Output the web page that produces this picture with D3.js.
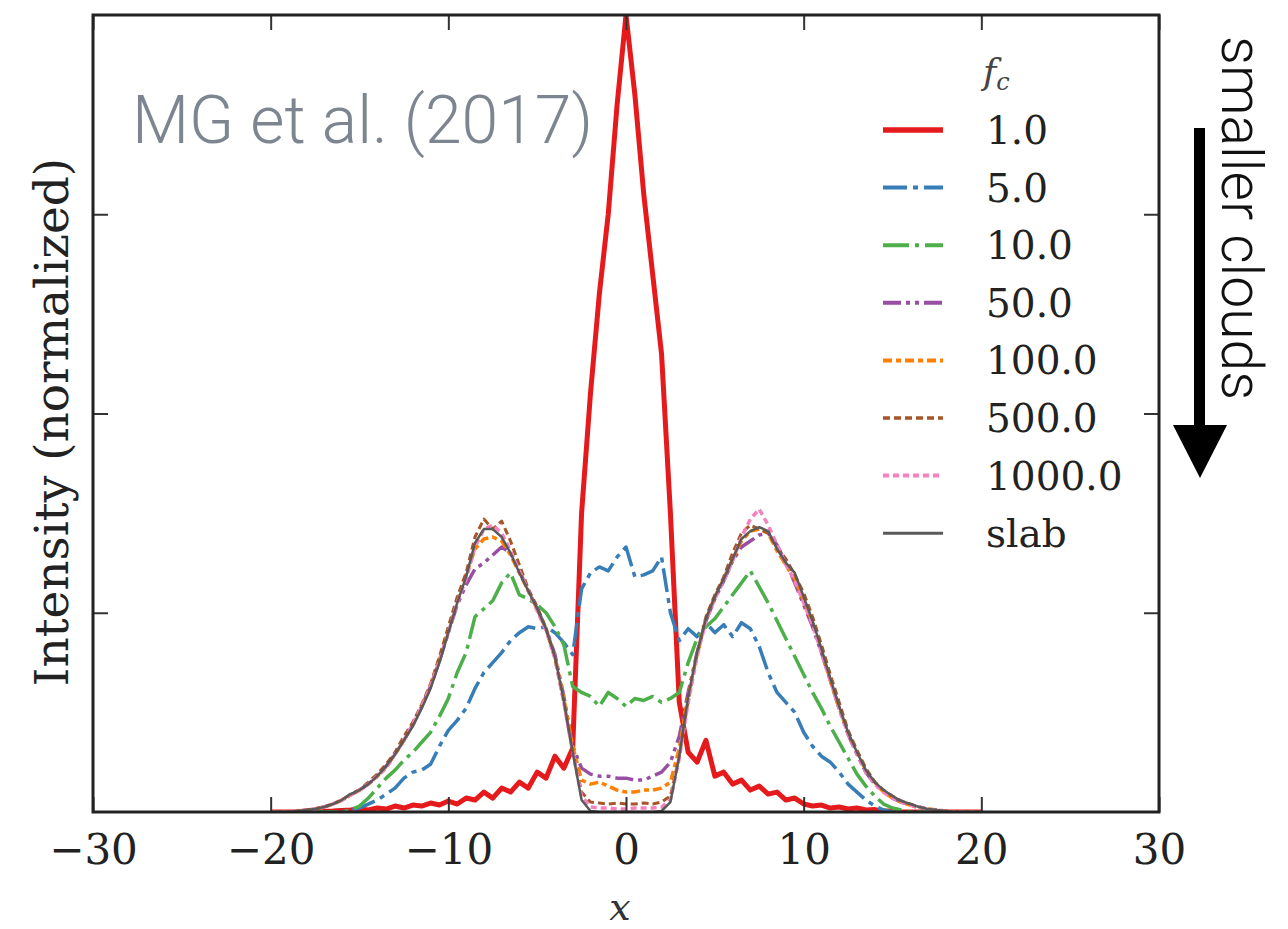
<!DOCTYPE html>
<html>
<head>
<meta charset="utf-8">
<script src="https://cdn.jsdelivr.net/npm/d3@7"></script>
<style>
  body { margin: 0; background: #fff; }
  svg { display: block; }
</style>
</head>
<body>
<script>
// sample grid shared by every profile
var xs = [-20, -19.5, -19, -18.5, -18, -17.5, -17, -16.5, -16, -15.5,
          -15, -14.5, -14, -13.5, -13, -12.5, -12, -11.5, -11, -10.5,
          -10, -9.5, -9, -8.5, -8, -7.5, -7, -6.5, -6, -5.5,
          -5, -4.5, -4, -3.5, -3, -2.5, -2, -1.5, -1, -0.5,
          0, 0.5, 1, 1.5, 2, 2.5, 3, 3.5, 4, 4.5,
          5, 5.5, 6, 6.5, 7, 7.5, 8, 8.5, 9, 9.5,
          10, 10.5, 11, 11.5, 12, 12.5, 13, 13.5, 14, 14.5,
          15, 15.5, 16, 16.5, 17, 17.5, 18, 18.5, 19, 19.5,
          20];

var fc1 = [0, 0, 0, 0, 0, 0, 0.003, 0.005, 0.008, 0.01,
           0.015, 0.01, 0.02, 0.015, 0.03, 0.02, 0.035, 0.03, 0.045, 0.035,
           0.055, 0.04, 0.07, 0.06, 0.1, 0.07, 0.12, 0.1, 0.15, 0.12,
           0.2, 0.17, 0.28, 0.22, 0.32, 1.5, 2.1, 2.6, 3.0, 3.55,
           4.0, 3.6, 3.1, 2.7, 2.3, 1.5, 0.55, 0.3, 0.25, 0.36,
           0.18, 0.2, 0.14, 0.16, 0.11, 0.13, 0.09, 0.1, 0.06, 0.07,
           0.04, 0.03, 0.035, 0.02, 0.025, 0.015, 0.02, 0.01, 0.012, 0.005,
           0.005, 0, 0, 0, 0, 0, 0, 0, 0, 0,
           0];

var fc5 = [0, 0, 0, 0, 0, 0, 0, 0, 0, 0.01,
           0.02, 0.04, 0.06, 0.09, 0.12, 0.17, 0.2, 0.21, 0.24, 0.33,
           0.41, 0.46, 0.52, 0.62, 0.7, 0.75, 0.8, 0.86, 0.9, 0.93,
           0.92, 0.93, 0.9, 0.85, 0.79, 1.12, 1.2, 1.23, 1.21, 1.28,
           1.33, 1.18, 1.19, 1.21, 1.28, 1.0, 0.86, 0.92, 0.88, 0.95,
           0.9, 0.94, 0.88, 0.95, 0.92, 0.83, 0.7, 0.6, 0.55, 0.5,
           0.4, 0.33, 0.28, 0.25, 0.2, 0.14, 0.1, 0.06, 0.03, 0.01,
           0, 0, 0, 0, 0, 0, 0, 0, 0, 0,
           0];

var fc10 = [0, 0, 0, 0, 0, 0, 0, 0, 0, 0.01,
            0.03, 0.07, 0.12, 0.17, 0.21, 0.26, 0.3, 0.35, 0.4, 0.48,
            0.57, 0.7, 0.8, 0.98, 1.02, 1.06, 1.15, 1.2, 1.09, 1.07,
            1.04, 1.0, 0.93, 0.84, 0.63, 0.6, 0.58, 0.53, 0.6, 0.57,
            0.53, 0.57, 0.56, 0.58, 0.55, 0.57, 0.6, 0.75, 0.87, 0.93,
            0.97, 1.03, 1.09, 1.15, 1.21, 1.13, 1.05, 0.96, 0.87, 0.78,
            0.69, 0.6, 0.52, 0.43, 0.35, 0.27, 0.19, 0.13, 0.08, 0.04,
            0.02, 0.01, 0, 0, 0, 0, 0, 0, 0, 0,
            0];

var fc50 = [0, 0, 0, 0.005, 0.01, 0.015, 0.025, 0.04, 0.06, 0.085,
            0.11, 0.14, 0.18, 0.23, 0.29, 0.36, 0.44, 0.53, 0.63, 0.76,
            0.9, 1.04, 1.14, 1.22, 1.25, 1.29, 1.33, 1.3, 1.21, 1.11,
            1.02, 0.92, 0.79, 0.58, 0.33, 0.22, 0.19, 0.18, 0.18, 0.17,
            0.17, 0.16, 0.16, 0.18, 0.2, 0.25, 0.38, 0.6, 0.8, 0.96,
            1.07, 1.16, 1.26, 1.33, 1.36, 1.39, 1.4, 1.34, 1.25, 1.15,
            1.04, 0.93, 0.8, 0.66, 0.52, 0.39, 0.29, 0.2, 0.14, 0.1,
            0.07, 0.05, 0.035, 0.02, 0.01, 0.005, 0, 0, 0, 0,
            0];

var fc100 = [0, 0, 0, 0.005, 0.01, 0.015, 0.025, 0.04, 0.06, 0.085,
             0.11, 0.14, 0.18, 0.23, 0.29, 0.36, 0.44, 0.53, 0.64, 0.77,
             0.91, 1.06, 1.19, 1.32, 1.37, 1.38, 1.36, 1.29, 1.2, 1.11,
             1.02, 0.92, 0.78, 0.57, 0.33, 0.16, 0.14, 0.15, 0.13, 0.11,
             0.1, 0.1, 0.11, 0.11, 0.12, 0.15, 0.32, 0.58, 0.79, 0.97,
             1.08, 1.17, 1.27, 1.36, 1.41, 1.42, 1.4, 1.31, 1.24, 1.17,
             1.06, 0.95, 0.81, 0.66, 0.52, 0.4, 0.3, 0.21, 0.15, 0.1,
             0.07, 0.05, 0.035, 0.025, 0.015, 0.01, 0.005, 0, 0, 0,
             0];

var fc500 = [0, 0, 0, 0.005, 0.01, 0.015, 0.025, 0.04, 0.06, 0.09,
             0.11, 0.15, 0.19, 0.24, 0.3, 0.38, 0.45, 0.54, 0.64, 0.78,
             0.93, 1.08, 1.2, 1.38, 1.47, 1.42, 1.46, 1.36, 1.24, 1.12,
             1.03, 0.92, 0.77, 0.55, 0.3, 0.1, 0.05, 0.045, 0.04, 0.045,
             0.04, 0.04, 0.045, 0.04, 0.05, 0.08, 0.28, 0.56, 0.79, 0.98,
             1.09, 1.18, 1.3, 1.4, 1.44, 1.42, 1.4, 1.33, 1.27, 1.19,
             1.1, 0.98, 0.84, 0.69, 0.55, 0.41, 0.31, 0.22, 0.15, 0.11,
             0.08, 0.055, 0.04, 0.025, 0.015, 0.01, 0.005, 0, 0, 0,
             0];

var fc1000 = [0, 0, 0, 0.005, 0.01, 0.015, 0.025, 0.04, 0.06, 0.085,
              0.11, 0.14, 0.18, 0.22, 0.29, 0.36, 0.44, 0.53, 0.63, 0.76,
              0.9, 1.05, 1.17, 1.33, 1.42, 1.44, 1.4, 1.31, 1.21, 1.11,
              1.01, 0.91, 0.77, 0.55, 0.3, 0.08, 0.025, 0.02, 0.02, 0.015,
              0.015, 0.02, 0.02, 0.02, 0.025, 0.06, 0.27, 0.55, 0.78, 0.96,
              1.07, 1.16, 1.26, 1.38, 1.47, 1.52, 1.44, 1.34, 1.24, 1.16,
              1.05, 0.94, 0.8, 0.66, 0.52, 0.39, 0.29, 0.2, 0.14, 0.1,
              0.07, 0.05, 0.035, 0.025, 0.015, 0.01, 0.005, 0, 0, 0,
              0];

var slab = [0, 0, 0, 0.005, 0.01, 0.015, 0.025, 0.04, 0.06, 0.09,
            0.11, 0.14, 0.18, 0.23, 0.29, 0.36, 0.43, 0.52, 0.62, 0.75,
            0.9, 1.05, 1.18, 1.35, 1.42, 1.42, 1.38, 1.3, 1.2, 1.11,
            1.02, 0.92, 0.78, 0.56, 0.3, 0.06, 0.005, 0, 0, 0,
            0, 0, 0, 0, 0.005, 0.05, 0.28, 0.58, 0.8, 0.97,
            1.08, 1.17, 1.27, 1.37, 1.41, 1.43, 1.41, 1.32, 1.25, 1.2,
            1.08, 0.96, 0.82, 0.67, 0.53, 0.4, 0.3, 0.21, 0.15, 0.11,
            0.08, 0.055, 0.04, 0.025, 0.015, 0.01, 0.005, 0, 0, 0,
            0];

var labels = ["1.0", "5.0", "10.0", "50.0", "100.0", "500.0", "1000.0", "slab"];
var values = [fc1, fc5, fc10, fc50, fc100, fc500, fc1000, slab];
var xTicks = [-30, -20, -10, 0, 10, 20, 30];
var yTicks = [1, 2, 3];

var colors = ["#e41a1c", "#377eb8", "#4daf4a", "#984ea3", "#ff7f00", "#a65628", "#f781bf", "#5a5a5a"];
var dashes = [null, "24,6,5,6", "26,6,4,6", "18,5,4,5,4,5", "9,4,5,4", "7,4", "6,4", null];
var widths = [5, 3.5, 3.5, 3.5, 3.5, 3, 3.5, 2.5];

// note: "top" is reserved on window, so plot edges get their own names
var width = 1288,
    height = 929,
    plotL = 93, plotR = 1159, plotT = 15, plotB = 812;

var svg = d3.select('body').append('svg')
    .attr('width', width)
    .attr('height', height);

var x = d3.scaleLinear().domain([-30, 30]).range([plotL, plotR]);
var y = d3.scaleLinear().domain([0, 4]).range([plotB, plotT]);

svg.append('clipPath').attr('id', 'plotclip')
  .append('rect')
    .attr('x', plotL).attr('y', plotT)
    .attr('width', plotR - plotL).attr('height', plotB - plotT);

//profiles
var line = d3.line()
    .x(function(d){ return x(d[0]); })
    .y(function(d){ return y(d[1]); });

var series = values.map(function(v, i){
  return { label: labels[i], pts: xs.map(function(xv, j){ return [xv, v[j]]; }) };
});

svg.append('g').attr('clip-path', 'url(#plotclip)')
  .selectAll('path')
  .data(series)
  .enter().append('path')
    .attr('d', function(d){ return line(d.pts); })
    .attr('fill', 'none')
    .attr('stroke', function(d, i){ return colors[i]; })
    .attr('stroke-width', function(d, i){ return widths[i]; })
    .attr('stroke-dasharray', function(d, i){ return dashes[i]; })
    .attr('stroke-linejoin', 'round');

//axes, ticks pointing inward
var tickFont = 'DejaVu Serif, serif';

var gx = svg.append('g')
    .attr('transform', 'translate(0,' + plotB + ')')
    .call(d3.axisBottom(x).tickValues(xTicks).tickSize(-15).tickPadding(22));
gx.selectAll('text').attr('font-size', 42).attr('font-family', tickFont).attr('fill', '#222');

svg.append('g')
    .attr('transform', 'translate(0,' + plotT + ')')
    .call(d3.axisTop(x).tickValues(xTicks).tickSize(-15).tickFormat(''));

svg.append('g')
    .attr('transform', 'translate(' + plotL + ',0)')
    .call(d3.axisLeft(y).tickValues(yTicks).tickSize(-15).tickFormat(''));

svg.append('g')
    .attr('transform', 'translate(' + plotR + ',0)')
    .call(d3.axisRight(y).tickValues(yTicks).tickSize(-15).tickFormat(''));

svg.selectAll('.domain').remove();
svg.selectAll('.tick line').attr('stroke', '#333').attr('stroke-width', 2);

svg.append('rect')
    .attr('x', plotL).attr('y', plotT)
    .attr('width', plotR - plotL).attr('height', plotB - plotT)
    .attr('fill', 'none').attr('stroke', '#222').attr('stroke-width', 3);

//axis labels
svg.append('text')
    .attr('x', 620).attr('y', 920)
    .attr('text-anchor', 'middle')
    .attr('font-family', tickFont).attr('font-style', 'italic')
    .attr('font-size', 38).attr('fill', '#333')
    .text('x');

svg.append('text')
    .attr('transform', 'translate(68,422) rotate(-90)')
    .attr('text-anchor', 'middle')
    .attr('font-family', tickFont)
    .attr('font-size', 47).attr('fill', '#222')
    .text('Intensity (normalized)');

//legend
var legend = svg.append('g');
var title = legend.append('text')
    .attr('x', 983).attr('y', 84)
    .attr('font-family', tickFont).attr('font-style', 'italic')
    .attr('font-size', 36).attr('fill', '#444');
title.append('tspan').text('f');
title.append('tspan').attr('font-size', 24).attr('dy', 6).text('c');

var rows = legend.selectAll('g.row')
    .data(series)
  .enter().append('g')
    .attr('class', 'row')
    .attr('transform', function(d, i){ return 'translate(0,' + (130 + i * 57.6) + ')'; });

rows.append('line')
    .attr('x1', 883).attr('x2', 943)
    .attr('stroke', function(d, i){ return colors[i]; })
    .attr('stroke-width', function(d, i){ return widths[i] + 0.5; })
    .attr('stroke-dasharray', function(d, i){ return dashes[i]; });

rows.append('text')
    .attr('x', 986).attr('y', 14)
    .attr('font-family', tickFont)
    .attr('font-size', 39).attr('fill', '#222')
    .text(function(d){ return d.label; });

//annotations
svg.append('text')
    .attr('x', 132).attr('y', 143)
    .attr('font-family', 'Roboto, sans-serif').attr('font-weight', 300)
    .attr('font-size', 66).attr('fill', '#7d8690')
    .text('MG et al. (2017)');

svg.append('text')
    .attr('transform', 'translate(1222,36) rotate(90)')
    .attr('font-family', 'Roboto, sans-serif').attr('font-weight', 300)
    .attr('font-size', 57).attr('fill', '#111')
    .text('smaller clouds');

svg.append('rect')
    .attr('x', 1194).attr('y', 128)
    .attr('width', 11).attr('height', 300)
    .attr('fill', '#000');

svg.append('path')
    .attr('d', d3.line()([[1173, 425], [1227, 425], [1200, 478]]) + 'Z')
    .attr('fill', '#000');
</script>
</body>
</html>
